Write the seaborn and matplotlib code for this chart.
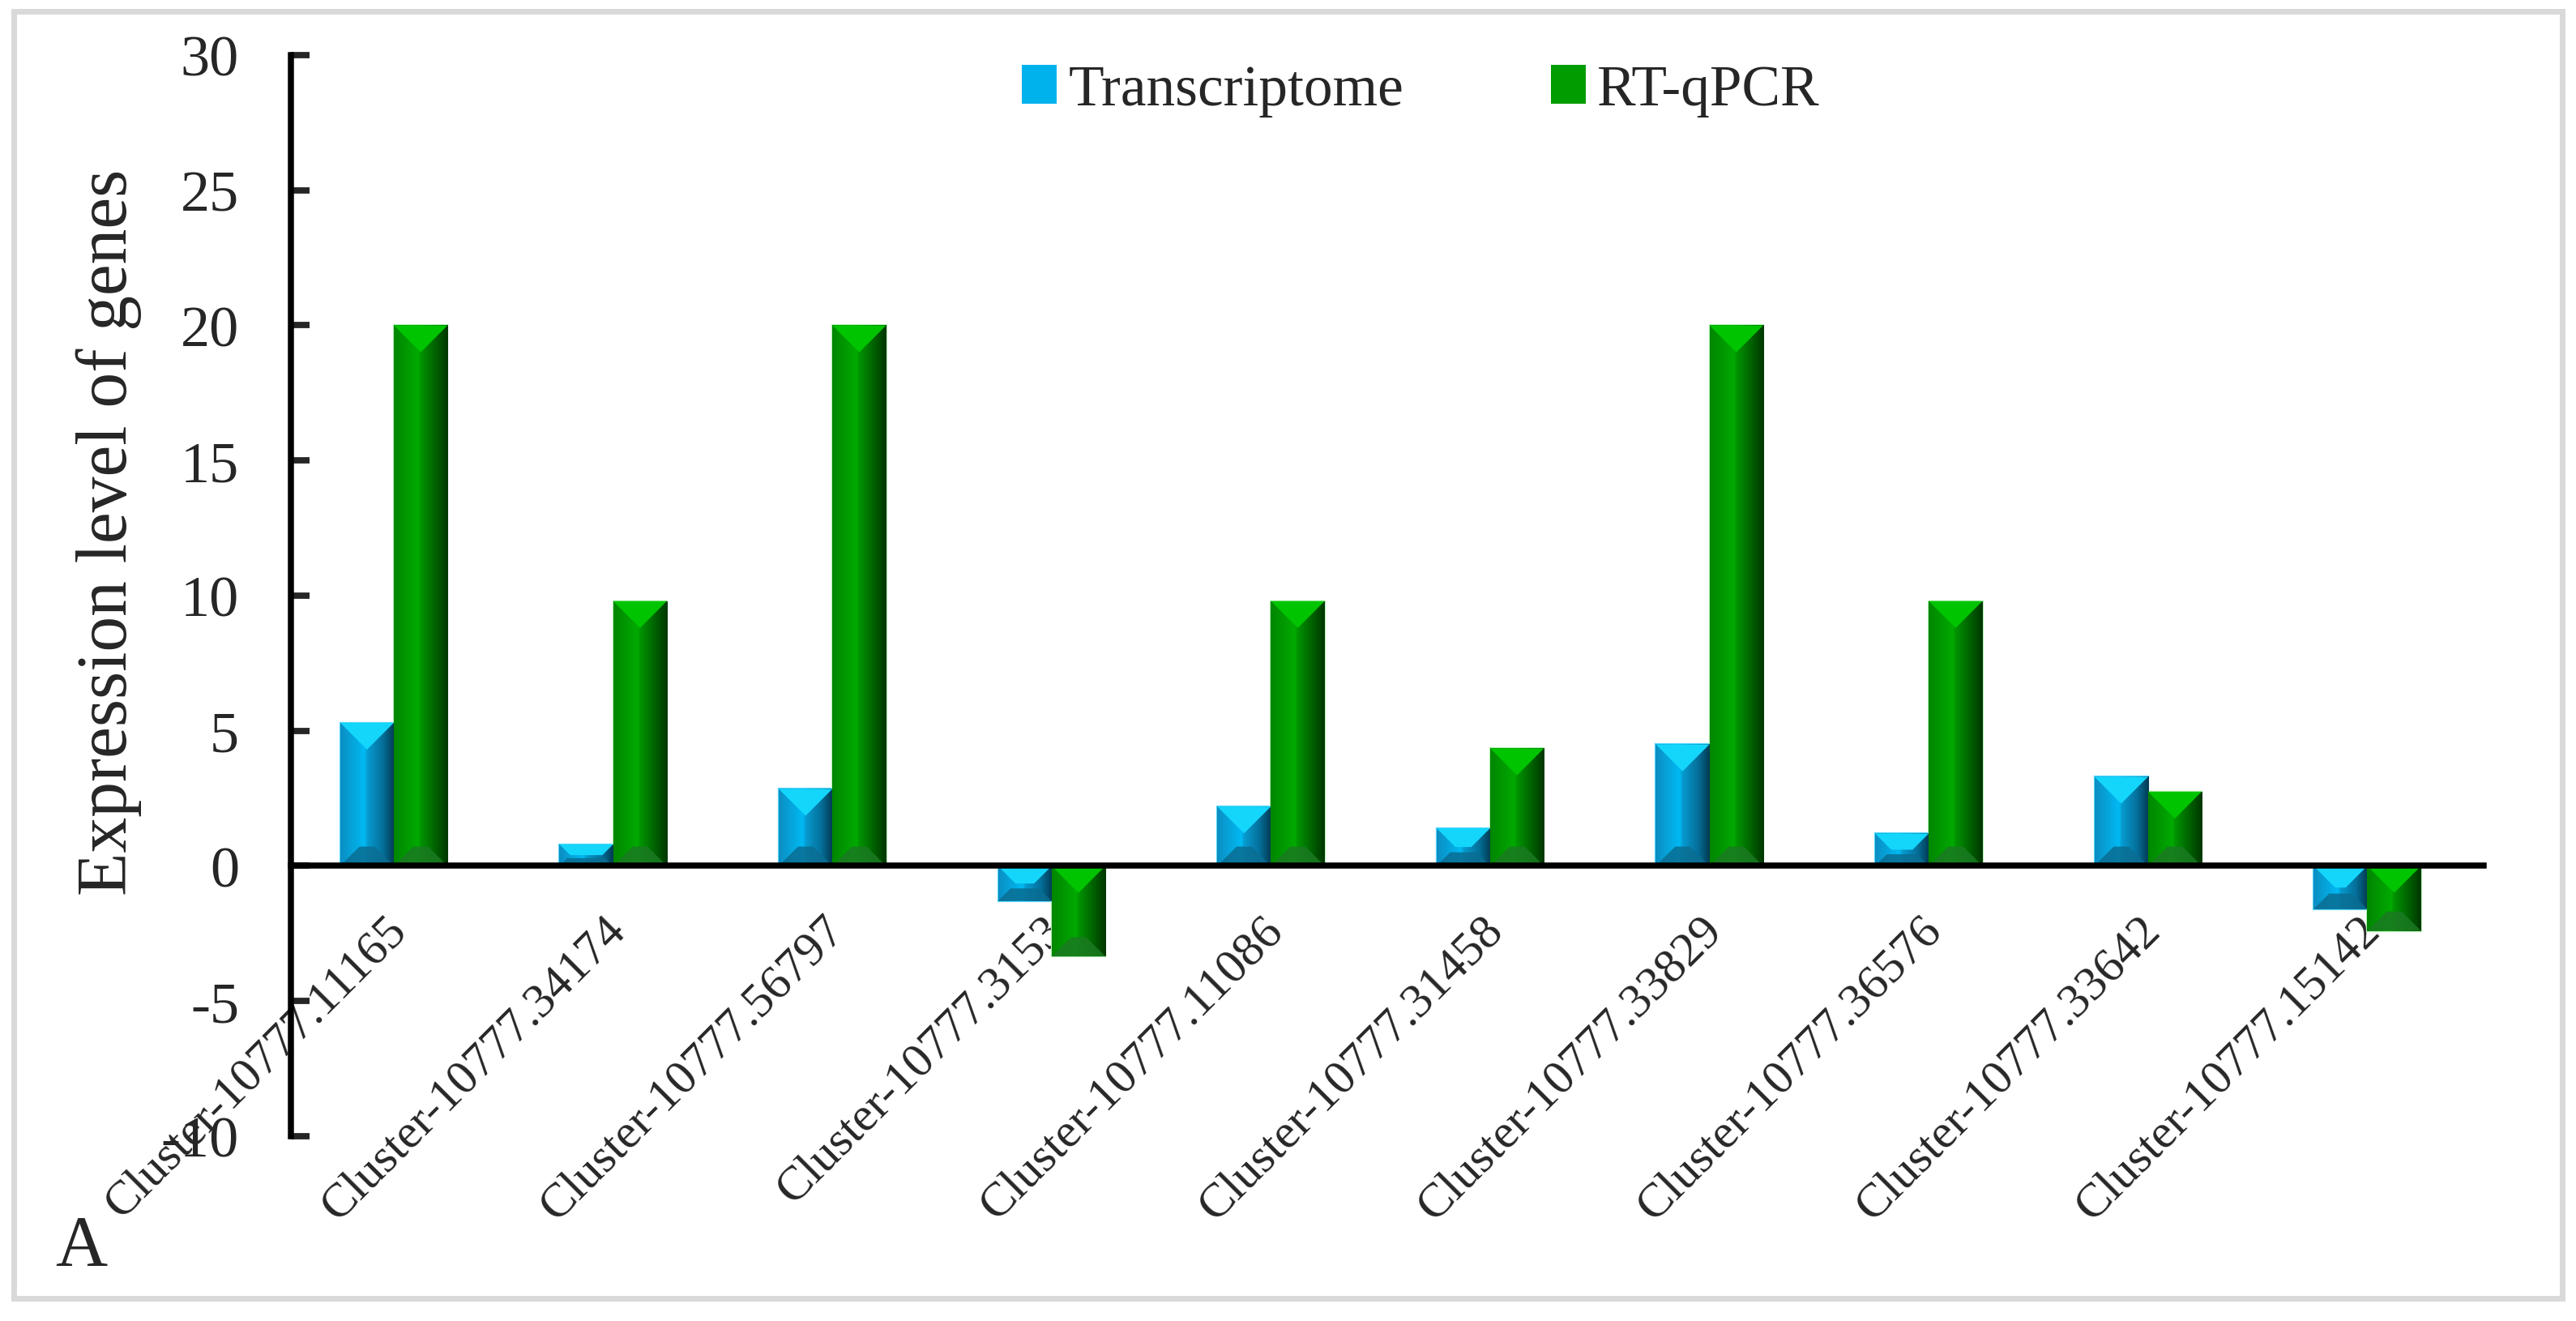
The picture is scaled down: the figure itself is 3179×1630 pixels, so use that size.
import numpy as np
import pandas as pd
import seaborn as sns
import matplotlib.pyplot as plt
import matplotlib.transforms as mtransforms
from matplotlib.colors import LinearSegmentedColormap
from matplotlib.patches import Polygon, Rectangle

# data
genes = ['Cluster-10777.11165', 'Cluster-10777.34174', 'Cluster-10777.56797',
         'Cluster-10777.3153', 'Cluster-10777.11086', 'Cluster-10777.31458',
         'Cluster-10777.33829', 'Cluster-10777.36576', 'Cluster-10777.33642',
         'Cluster-10777.15142']
transcriptome = [5.3, 0.8, 2.85, -1.3, 2.2, 1.4, 4.5, 1.2, 3.3, -1.6]
rt_qpcr = [20, 9.8, 20, -3.35, 9.8, 4.35, 20, 9.8, 2.75, -2.4]
methods = ['Transcriptome', 'RT-qPCR']
y_ticks = [-10, -5, 0, 5, 10, 15, 20, 25, 30]

df = pd.DataFrame({'gene': genes * 2,
                   'method': [methods[0]] * len(genes) + [methods[1]] * len(genes),
                   'value': transcriptome + rt_qpcr})

sns.set_style('white')
plt.rcParams['font.family'] = ['Liberation Serif', 'DejaVu Serif']
plt.rcParams['axes.unicode_minus'] = False

fig = plt.figure(figsize=(15.895, 8.155), dpi=200)
ax = fig.add_axes([0.1129, 0.1398, 0.8512, 0.8179])

base_cols = ['#00b2ec', '#009c00']
sns.barplot(data=df, x='gene', y='value', hue='method', hue_order=methods,
            palette=base_cols, width=0.49, gap=0, saturation=1,
            edgecolor='none', linewidth=0, ax=ax)

ax.set_xlim(-0.5, 9.5)
ax.set_ylim(-10, 30)
ax.set_yticks(y_ticks)

# gradient + bevel look of the bars (Excel style)
grad_cols = [
    ['#0b8ec2', '#00baf3', '#079bd0', '#05709b', '#023a52'],
    ['#008600', '#00aa00', '#009300', '#005f00', '#003600'],
]
top_cols = ['#14d6fb', '#00c400']
bot_cols = ['#0a6d92', '#1a7a22']
edge_cols = ['#5fd8ff', '#b8f0b8']

fig.canvas.draw()
p0 = ax.transData.transform((0, 0))
p1 = ax.transData.transform((1, 1))
px_x = p1[0] - p0[0]
px_y = p1[1] - p0[1]

for k, cont in enumerate(ax.containers):
    cmap = LinearSegmentedColormap.from_list('g%d' % k, list(zip([0, 0.45, 0.5, 0.78, 1.0], grad_cols[k])))
    grad = np.linspace(0, 1, 256).reshape(1, -1)
    for bar in cont:
        bar.set_x(bar.get_x() - 0.03)
        x0 = bar.get_x()
        w = bar.get_width()
        y_lo = min(bar.get_y(), bar.get_y() + bar.get_height())
        y_hi = max(bar.get_y(), bar.get_y() + bar.get_height())
        bar.set_edgecolor(edge_cols[k])
        bar.set_linewidth(0.8)
        im = ax.imshow(grad, cmap=cmap, extent=[x0, x0 + w, y_lo, y_hi],
                       aspect='auto', zorder=1.1, interpolation='bilinear')
        im.set_clip_path(bar)
        dfull = (w / 2) * px_x / px_y
        d = min(dfull, (y_hi - y_lo) / 2)
        xm = x0 + w / 2
        inner = (w / 2) * (1 - d / dfull)
        top = Polygon([(x0, y_hi), (x0 + w, y_hi), (xm + inner, y_hi - d), (xm - inner, y_hi - d)],
                      closed=True, facecolor=top_cols[k], edgecolor='none', zorder=1.2)
        ax.add_patch(top)
        db = d * 0.72
        inner_b = (w / 2) * (1 - db / dfull)
        bot = Polygon([(x0, y_lo), (x0 + w, y_lo), (xm + inner_b, y_lo + db), (xm - inner_b, y_lo + db)],
                      closed=True, facecolor=bot_cols[k], edgecolor='none', alpha=0.85, zorder=1.2)
        ax.add_patch(bot)

# axes styling
for s in ['top', 'right']:
    ax.spines[s].set_visible(False)
ax.spines['bottom'].set_position(('data', 0))
for s in ['left', 'bottom']:
    ax.spines[s].set_linewidth(2.7)
    ax.spines[s].set_color('black')
    ax.spines[s].set_zorder(3)

ax.tick_params(axis='y', direction='in', length=8.3, width=2.8, pad=23, labelsize=26, left=True)
ax.tick_params(axis='x', length=0, pad=15, labelsize=21.5)
shift = mtransforms.ScaledTranslation(-20 / 200, -10 / 200, fig.dpi_scale_trans)
for lab in ax.get_xticklabels():
    lab.set_rotation(45)
    lab.set_ha('right')
    lab.set_va('top')
    lab.set_rotation_mode('anchor')
    lab.set_transform(lab.get_transform() + shift)

ax.set_xlabel('')
ax.set_ylabel('Expression level of genes', fontsize=31.5)
ax.yaxis.set_label_coords(-0.068, 0.559)

handles, labels = ax.get_legend_handles_labels()
ax.legend(handles, labels, ncol=2, frameon=False, fontsize=25.7,
          loc='center left', bbox_to_anchor=(0.3967, 0.931), bbox_transform=fig.transFigure,
          borderpad=0, borderaxespad=0, handlelength=0.6, handleheight=0.66,
          handletextpad=0.2, columnspacing=2.55)

fig.text(100 / 3179, 0.0429, 'A', ha='center', va='baseline', fontsize=32)

fig.patches.append(Rectangle((17 / 3179, 1 - 1603 / 1631), (3162 - 17) / 3179, (1603 - 15) / 1631,
                             transform=fig.transFigure, facecolor='none', edgecolor='#d9d9d9',
                             linewidth=2.5, zorder=0))

fig.savefig('out.png', dpi=200)
